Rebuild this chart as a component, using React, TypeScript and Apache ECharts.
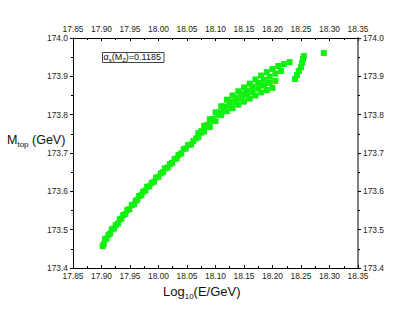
import React, { useEffect, useRef } from "react";
import * as echarts from "echarts";

// Tick settings
const xMin = 17.85;
const xMax = 18.35;
const xStep = 0.05;
const yMin = 173.4;
const yMax = 174.0;
const yStep = 0.1;

// Data tracks: [log10(E/GeV), Mtop (GeV)]
const baseChain: [number, number][] = [
  [17.902, 173.457], [17.906, 173.475], [17.912, 173.486], [17.918, 173.501],
  [17.925, 173.512], [17.932, 173.527], [17.938, 173.538], [17.945, 173.551],
  [17.953, 173.564], [17.96, 173.575], [17.966, 173.588], [17.973, 173.599],
  [17.98, 173.612], [17.988, 173.622], [17.996, 173.636], [18.004, 173.647],
  [18.011, 173.66], [18.02, 173.671], [18.028, 173.684], [18.035, 173.695],
  [18.044, 173.71], [18.052, 173.721], [18.061, 173.731],
];
const baseChainB: [number, number][] = [
  [17.904, 173.462], [17.909, 173.477], [17.915, 173.49], [17.922, 173.503],
  [17.929, 173.516], [17.935, 173.529], [17.942, 173.541], [17.949, 173.554],
  [17.957, 173.566], [17.963, 173.578], [17.97, 173.59], [17.977, 173.602],
  [17.984, 173.613], [17.992, 173.625], [18.0, 173.638], [18.008, 173.65],
  [18.016, 173.662], [18.024, 173.674], [18.032, 173.686], [18.04, 173.699],
  [18.048, 173.712], [18.057, 173.722], [18.066, 173.738],
];
const upperTrack: [number, number][] = [
  [18.07, 173.752], [18.08, 173.771], [18.09, 173.788], [18.1, 173.806],
  [18.11, 173.822], [18.12, 173.839], [18.13, 173.85], [18.14, 173.861],
  [18.15, 173.871], [18.16, 173.881], [18.17, 173.892], [18.18, 173.902],
  [18.19, 173.911], [18.2, 173.919], [18.21, 173.927], [18.22, 173.932],
  [18.23, 173.937],
];
const midTrackA: [number, number][] = [
  [18.075, 173.757], [18.085, 173.773], [18.095, 173.789], [18.105, 173.806],
  [18.115, 173.821], [18.125, 173.834], [18.135, 173.844], [18.145, 173.854],
  [18.155, 173.863], [18.165, 173.873], [18.175, 173.883], [18.185, 173.891],
  [18.195, 173.899], [18.205, 173.907], [18.215, 173.914],
];
const midTrackB: [number, number][] = [
  [18.075, 173.753], [18.085, 173.768], [18.095, 173.784], [18.105, 173.8],
  [18.115, 173.814], [18.125, 173.824], [18.135, 173.833], [18.145, 173.842],
  [18.155, 173.85], [18.165, 173.859], [18.175, 173.868], [18.185, 173.876],
  [18.195, 173.883], [18.205, 173.888],
];
const lowerTrack: [number, number][] = [
  [18.07, 173.742], [18.08, 173.756], [18.09, 173.768], [18.1, 173.783],
  [18.11, 173.799], [18.12, 173.809], [18.13, 173.817], [18.14, 173.826],
  [18.15, 173.834], [18.16, 173.842], [18.17, 173.85], [18.18, 173.858],
  [18.19, 173.864], [18.2, 173.87],
];
const hookBranch: [number, number][] = [
  [18.2395, 173.893], [18.243, 173.903], [18.246, 173.914], [18.25, 173.924],
  [18.252, 173.935], [18.2535, 173.945], [18.255, 173.953],
];
const outlier: [number, number][] = [[18.29, 173.961]];

const tracks = [baseChain, baseChainB, upperTrack, midTrackA, midTrackB, lowerTrack, hookBranch, outlier];

const GREEN = "#12F012";
const TICK_FONT = "'Liberation Sans Narrow', 'Liberation Sans', Arial, sans-serif";
const FONT = "'Liberation Sans', Arial, sans-serif";

function makeX(position: "bottom" | "top", margin: number) {
  return {
    type: "value",
    position,
    min: xMin,
    max: xMax,
    interval: xStep,
    axisLine: { show: true, onZero: false, lineStyle: { color: "#000", width: 1 } },
    axisTick: { show: true, inside: true, length: 3, lineStyle: { color: "#000", width: 1 } },
    minorTick: { show: true, splitNumber: 2, length: 2, lineStyle: { color: "#000", width: 1 } },
    splitLine: { show: false },
    minorSplitLine: { show: false },
    axisLabel: {
      margin,
      fontSize: 8.4,
      color: "#222",
      fontFamily: TICK_FONT,
      formatter: (v: number) => v.toFixed(2),
    },
  };
}

function makeY(position: "left" | "right", color: string, width: number) {
  return {
    type: "value",
    position,
    min: yMin,
    max: yMax,
    interval: yStep,
    axisLine: { show: true, onZero: false, lineStyle: { color, width } },
    axisTick: { show: true, inside: false, length: 3, lineStyle: { color: "#000", width: 1 } },
    minorTick: { show: true, splitNumber: 2, length: 2, lineStyle: { color: "#000", width: 1 } },
    splitLine: { show: false },
    minorSplitLine: { show: false },
    axisLabel: {
      margin: 5,
      fontSize: 8.4,
      color: "#222",
      fontFamily: TICK_FONT,
      formatter: (v: number) => v.toFixed(1),
    },
  };
}

export default function App() {
  const ref = useRef<HTMLDivElement>(null);
  useEffect(() => {
    document.body.style.margin = "0";
    if (!ref.current) return;
    const chart = echarts.init(ref.current, undefined, { renderer: "svg" });
    chart.setOption({
      animation: false,
      backgroundColor: "#fff",
      grid: { left: 73, right: 57, top: 38, bottom: 53, containLabel: false },
      xAxis: [makeX("bottom", 4), makeX("top", 5)],
      yAxis: [makeY("left", "#000", 1), makeY("right", "#808080", 2)],
      series: tracks.map((t) => ({
        type: "scatter",
        xAxisIndex: 0,
        yAxisIndex: 0,
        symbol: "rect",
        symbolSize: 6,
        itemStyle: { color: GREEN, opacity: 1 },
        emphasis: { disabled: true },
        data: t,
      })),
      graphic: [
        {
          type: "rect",
          shape: { x: 102.5, y: 52.5, width: 61.5, height: 10 },
          style: { fill: "#fff", stroke: "#444", lineWidth: 1 },
          z: 10,
        },
        {
          type: "text",
          x: 103.5,
          y: 52.5,
          z: 11,
          style: {
            text: "{g|α}{s|s}{g|(M}{s|Z}{g|)=0.1185}",
            fill: "#111",
            rich: {
              g: { fontSize: 9, lineHeight: 10, verticalAlign: "top", fontFamily: FONT, fill: "#111" },
              s: { fontSize: 6, lineHeight: 7, verticalAlign: "top", padding: [4, 0, 0, 0], fontFamily: FONT, fill: "#111" },
            },
          },
        },
        {
          type: "text",
          x: 163,
          y: 285,
          style: {
            text: "{a|Log}{s|10}{a|(E/GeV)}",
            fill: "#111",
            rich: {
              a: { fontSize: 13, lineHeight: 15, verticalAlign: "top", fontFamily: FONT, fill: "#111" },
              s: { fontSize: 8, lineHeight: 10, verticalAlign: "top", padding: [7, 0, 0, 0], fontFamily: FONT, fill: "#111" },
            },
          },
        },
        {
          type: "text",
          x: 7,
          y: 133,
          style: {
            text: "{a|M}{s|top}{a| (GeV)}",
            fill: "#111",
            rich: {
              a: { fontSize: 12.5, lineHeight: 15, verticalAlign: "top", fontFamily: FONT, fill: "#111" },
              s: { fontSize: 8, lineHeight: 10, verticalAlign: "top", padding: [7, 0, 0, 0], fontFamily: FONT, fill: "#111" },
            },
          },
        },
      ],
    });
    return () => chart.dispose();
  }, []);
  return <div ref={ref} style={{ width: 415, height: 321 }} />;
}
